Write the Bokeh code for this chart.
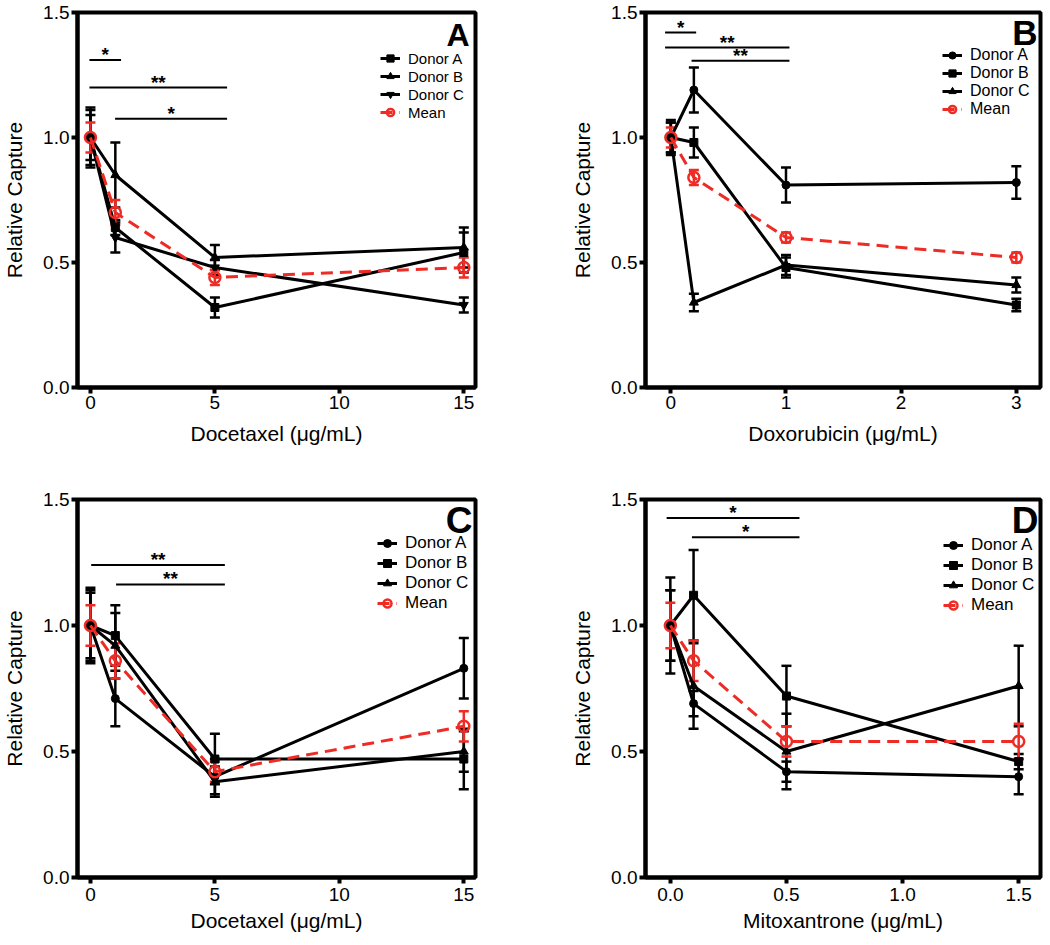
import numpy as np
from bokeh.plotting import figure
from bokeh.models import (ColumnDataSource, Whisker, TeeHead, Legend, LegendItem, Label,
                          Range1d, FixedTicker, PrintfTickFormatter)
from bokeh.core.properties import value
from bokeh.layouts import column, row
from bokeh.embed import file_html
from bokeh.resources import INLINE

# ---------------- Panel A : Docetaxel ----------------
a_x = [0, 1, 5, 15]
a_donorA = [1.0, 0.64, 0.32, 0.54]
a_donorA_err = [0.11, 0.03, 0.04, 0.08]
a_donorB = [1.0, 0.85, 0.52, 0.56]
a_donorB_err = [0.12, 0.13, 0.05, 0.08]
a_donorC = [1.0, 0.60, 0.48, 0.33]
a_donorC_err = [0.09, 0.06, 0.03, 0.03]
a_mean = [1.0, 0.70, 0.44, 0.48]
a_mean_err = [0.06, 0.05, 0.03, 0.04]
a_sig_x0 = [-0.04, -0.04, 0.99]
a_sig_x1 = [1.23, 5.49, 5.49]
a_sig_y = [1.31, 1.20, 1.075]
a_sig_lbl = ["*", "**", "*"]

# ---------------- Panel B : Doxorubicin ----------------
b_x = [0, 0.2, 1, 3]
b_donorA = [1.0, 1.19, 0.81, 0.82]
b_donorA_err = [0.06, 0.09, 0.07, 0.065]
b_donorB = [1.0, 0.98, 0.48, 0.33]
b_donorB_err = [0.07, 0.06, 0.04, 0.025]
b_donorC = [1.0, 0.34, 0.49, 0.41]
b_donorC_err = [0.06, 0.035, 0.04, 0.03]
b_mean = [1.0, 0.84, 0.60, 0.52]
b_mean_err = [0.04, 0.03, 0.02, 0.02]
b_sig_x0 = [-0.05, -0.05, 0.18]
b_sig_x1 = [0.22, 1.03, 1.03]
b_sig_y = [1.42, 1.36, 1.307]
b_sig_lbl = ["*", "**", "**"]

# ---------------- Panel C : Docetaxel ----------------
c_x = [0, 1, 5, 15]
c_donorA = [1.0, 0.71, 0.40, 0.83]
c_donorA_err = [0.14, 0.11, 0.07, 0.12]
c_donorB = [1.0, 0.96, 0.47, 0.47]
c_donorB_err = [0.15, 0.12, 0.10, 0.12]
c_donorC = [1.0, 0.92, 0.38, 0.50]
c_donorC_err = [0.13, 0.13, 0.06, 0.08]
c_mean = [1.0, 0.86, 0.42, 0.60]
c_mean_err = [0.08, 0.07, 0.04, 0.06]
c_sig_x0 = [0.03, 1.03]
c_sig_x1 = [5.4, 5.4]
c_sig_y = [1.24, 1.163]
c_sig_lbl = ["**", "**"]

# ---------------- Panel D : Mitoxantrone ----------------
d_x = [0, 0.1, 0.5, 1.5]
d_donorA = [1.0, 0.69, 0.42, 0.40]
d_donorA_err = [0.19, 0.05, 0.04, 0.07]
d_donorB = [1.0, 1.12, 0.72, 0.46]
d_donorB_err = [0.14, 0.18, 0.12, 0.03]
d_donorC = [1.0, 0.76, 0.50, 0.76]
d_donorC_err = [0.14, 0.17, 0.15, 0.16]
d_mean = [1.0, 0.86, 0.54, 0.54]
d_mean_err = [0.09, 0.08, 0.06, 0.07]
d_sig_x0 = [-0.016, 0.093]
d_sig_x1 = [0.556, 0.556]
d_sig_y = [1.427, 1.35]
d_sig_lbl = ["*", "*"]

series_names = ["Donor A", "Donor B", "Donor C"]
y_ticks = [0.0, 0.5, 1.0, 1.5]

FONT = "Liberation Sans"
RED = "#ee2b24"


def make_panel(x, donors, donor_errs, markers, mean, mean_err,
               sig_x0, sig_x1, sig_y, sig_lbl,
               x_range, x_ticks, x_fmt, xlabel, letter, letter_size, letter_off,
               legend_font, legend_pitch, legend_loc,
               frame_w, frame_h, b_left, b_right, b_top, b_bottom,
               xtick_standoff, xlabel_standoff, ylabel_standoff):
    p = figure(frame_width=frame_w, frame_height=frame_h,
               x_range=Range1d(*x_range), y_range=Range1d(0, 1.5),
               output_backend="svg", toolbar_location=None, title=None,
               min_border_left=b_left, min_border_right=b_right,
               min_border_top=b_top, min_border_bottom=b_bottom)
    p.grid.visible = False
    p.outline_line_color = "black"
    p.outline_line_width = 4
    p.outline_line_alpha = 1.0

    for ax in (p.xaxis[0], p.yaxis[0]):
        ax.axis_line_width = 4
        ax.major_tick_line_width = 4
        ax.major_tick_out = 6
        ax.major_tick_in = 0
        ax.minor_tick_line_color = None
        ax.major_label_text_font = FONT
        ax.major_label_text_font_size = "19px"
        ax.major_label_text_color = "black"
        ax.axis_label_text_font = FONT
        ax.axis_label_text_font_size = "21px"
        ax.axis_label_text_font_style = "normal"
        ax.axis_label_text_color = "black"
    p.yaxis.major_label_standoff = 2
    p.xaxis.major_label_standoff = xtick_standoff
    p.xaxis.ticker = FixedTicker(ticks=x_ticks)
    p.xaxis.formatter = PrintfTickFormatter(format=x_fmt)
    p.yaxis.ticker = FixedTicker(ticks=y_ticks)
    p.yaxis.formatter = PrintfTickFormatter(format="%.1f")
    p.xaxis.axis_label = xlabel
    p.yaxis.axis_label = "Relative Capture"
    p.xaxis.axis_label_standoff = xlabel_standoff
    p.yaxis.axis_label_standoff = ylabel_standoff

    xa = np.array(x, dtype=float)
    items = []
    # donors (black)
    for name, ys, es, mk in zip(series_names, donors, donor_errs, markers):
        ya = np.array(ys)
        ea = np.array(es)
        src = ColumnDataSource(dict(x=xa, y=ya, upper=ya + ea, lower=ya - ea))
        w = Whisker(source=src, base="x", upper="upper", lower="lower",
                    line_color="black", line_width=2.5,
                    upper_head=TeeHead(size=10, line_width=2.5, line_color="black"),
                    lower_head=TeeHead(size=10, line_width=2.5, line_color="black"))
        p.add_layout(w)
        ln = p.line("x", "y", source=src, line_color="black", line_width=3)
        msize = 8 if mk in ("square", "circle") else 9
        sc = p.scatter("x", "y", source=src, marker=mk, size=msize,
                       fill_color="black", line_color="black")
        items.append(LegendItem(label=name, renderers=[ln, sc]))

    # mean (red dashed, open circles)
    ma = np.array(mean)
    me = np.array(mean_err)
    msrc = ColumnDataSource(dict(x=xa, y=ma, upper=ma + me, lower=ma - me))
    mw = Whisker(source=msrc, base="x", upper="upper", lower="lower",
                 line_color=RED, line_width=2.5,
                 upper_head=TeeHead(size=10, line_width=2.5, line_color=RED),
                 lower_head=TeeHead(size=10, line_width=2.5, line_color=RED))
    p.add_layout(mw)
    mln = p.line("x", "y", source=msrc, line_color=RED, line_width=3, line_dash="12 7")
    msc = p.scatter("x", "y", source=msrc, marker="circle", size=11,
                    fill_alpha=0, line_color=RED, line_width=2.5)
    items.append(LegendItem(label="Mean", renderers=[mln, msc]))

    # significance bars
    sx0 = np.array(sig_x0)
    sx1 = np.array(sig_x1)
    sy = np.array(sig_y)
    p.segment(x0=sx0, y0=sy, x1=sx1, y1=sy, line_color="black", line_width=2)
    p.text(x=(sx0 + sx1) / 2, y=sy, text=sig_lbl, text_align="center",
           text_baseline="bottom", y_offset=5,
           text_font=value(FONT), text_font_size="19px", text_font_style="bold",
           text_color="black")

    legend = Legend(items=items, location=legend_loc,
                    label_text_font=FONT, label_text_font_size=f"{legend_font}px",
                    label_text_color="black",
                    glyph_width=20, glyph_height=int(round(legend_pitch)),
                    label_height=int(round(legend_pitch)), label_standoff=8,
                    spacing=0, padding=0, margin=0,
                    border_line_color=None, background_fill_alpha=0)
    p.add_layout(legend)

    p.add_layout(Label(x=x_range[1], y=1.5, text=letter, text_align="right",
                       text_baseline="top", x_offset=letter_off[0], y_offset=letter_off[1],
                       text_font=FONT, text_font_size=f"{letter_size}px",
                       text_font_style="bold", text_color="black"))
    return p


pA = make_panel(a_x, [a_donorA, a_donorB, a_donorC], [a_donorA_err, a_donorB_err, a_donorC_err],
                ["square", "triangle", "inverted_triangle"], a_mean, a_mean_err,
                a_sig_x0, a_sig_x1, a_sig_y, a_sig_lbl,
                (-0.52, 15.47), [0, 5, 10, 15], "%d", "Docetaxel (\u03bcg/mL)", "A", 32, (-6, -4),
                15, 18, (303, 266),
                398, 375, 72, 93, 12, 74, 2, 10, 14)

pB = make_panel(b_x, [b_donorA, b_donorB, b_donorC], [b_donorA_err, b_donorB_err, b_donorC_err],
                ["circle", "square", "triangle"], b_mean, b_mean_err,
                b_sig_x0, b_sig_x1, b_sig_y, b_sig_lbl,
                (-0.22, 3.21), [0, 1, 2, 3], "%d", "Doxorubicin (\u03bcg/mL)", "B", 35, (-3, 0),
                16, 17.5, (297, 269),
                395, 375, 72, 4, 12, 74, 2, 10, 14)

pC = make_panel(c_x, [c_donorA, c_donorB, c_donorC], [c_donorA_err, c_donorB_err, c_donorC_err],
                ["circle", "square", "triangle"], c_mean, c_mean_err,
                c_sig_x0, c_sig_x1, c_sig_y, c_sig_lbl,
                (-0.52, 15.47), [0, 5, 10, 15], "%d", "Docetaxel (\u03bcg/mL)", "C", 37, (-3, 0),
                17, 19.5, (300, 264),
                398, 378, 72, 93, 38, 59, 4, 5, 14)

pD = make_panel(d_x, [d_donorA, d_donorB, d_donorC], [d_donorA_err, d_donorB_err, d_donorC_err],
                ["circle", "square", "triangle"], d_mean, d_mean_err,
                d_sig_x0, d_sig_x1, d_sig_y, d_sig_lbl,
                (-0.107, 1.594), [0, 0.5, 1.0, 1.5], "%.1f", "Mitoxantrone (\u03bcg/mL)", "D", 37, (-2, 0),
                17, 20, (298, 262),
                395, 378, 72, 4, 38, 59, 4, 5, 14)

layout = column(row(pA, pB), row(pC, pD))
open("out.html", "w").write(file_html(layout, INLINE))
